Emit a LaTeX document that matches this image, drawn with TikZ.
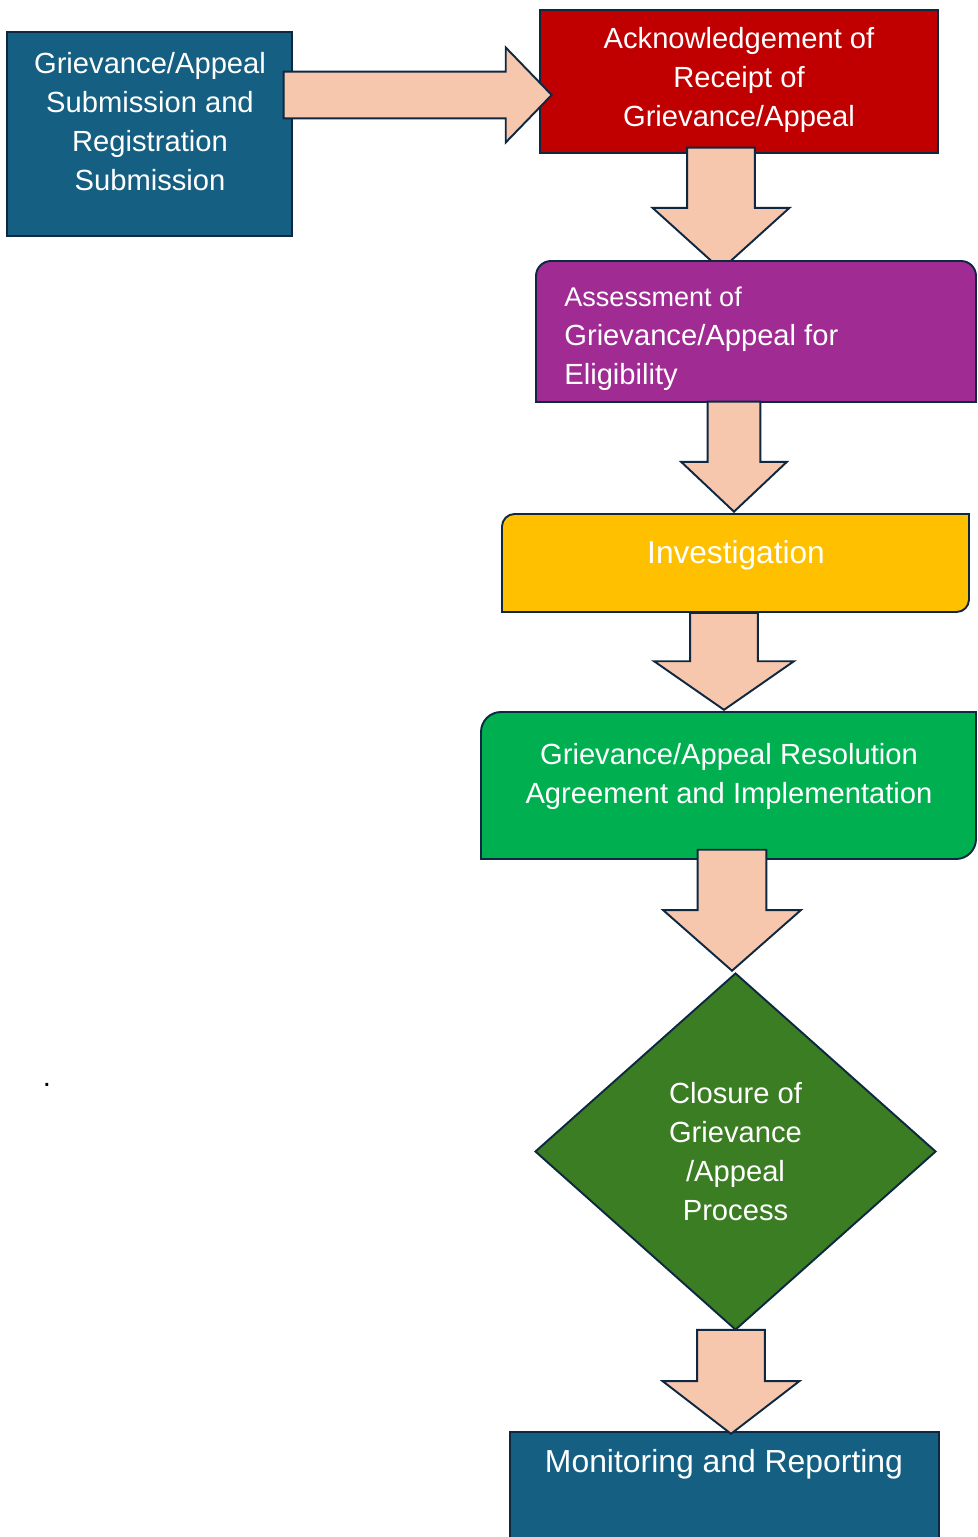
\documentclass[tikz,border=0pt]{standalone}
\usepackage{fontspec}
\setmainfont{Liberation Sans}
\usetikzlibrary{shapes.geometric, shapes.arrows}
\definecolor{stepblue}{HTML}{156082}
\definecolor{stepred}{HTML}{C00000}
\definecolor{steppurple}{HTML}{A02B93}
\definecolor{stepyellow}{HTML}{FFC000}
\definecolor{stepgreen}{HTML}{00B050}
\definecolor{closegreen}{HTML}{3A7D22}
\definecolor{arrowpeach}{HTML}{F6C6AD}
\definecolor{edgenavy}{HTML}{0E2841}
\tikzset{
    outline/.style={draw=edgenavy, line width=1.1pt},
    caption/.style={text=white, font=\fontsize{16.6}{22.2}\selectfont, inner sep=0pt, align=center},
    % shaft, head width, tip angle, length (all in px)
    flowarrow/.style n args={4}{outline, fill=arrowpeach, single arrow, inner xsep=0pt,
        inner ysep=#1*0.01cm, single arrow head extend=(#2-#1)*0.01cm,
        single arrow tip angle=#3, minimum height=#4*0.02cm, anchor=tip},
}
\begin{document}
\begin{tikzpicture}[x=0.02cm, y=-0.02cm]
    \useasboundingbox (0,0) rectangle (977,1537);
    % first two steps
    \draw[outline, fill=stepblue] (7,32) rectangle (292,236);
    \node[caption] (submit) at (150,121.5) {Grievance/Appeal\\Submission and\\Registration\\Submission};
    \draw[outline, fill=stepred] (540,10) rectangle (938,153);
    \node[caption] (ack) at (739,80) {Acknowledgement of\\Receipt of\\Grievance/Appeal};
    \node[flowarrow={45}{93}{91.9}{268}] (a1) at (553,95) {};
    \node[flowarrow={66}{135}{95.8}{122}, rotate=-90] (a2) at (721,271) {};
    % rounded boxes
    \draw[outline, fill=steppurple] (536,402) -- (536,330) [rounded corners=0.3cm] -- (536,261)
        -- (976,261) -- (976,330) [sharp corners] -- (976,402) -- cycle;
    \node[caption, align=left, anchor=west] (assess) at (564,339)
        {{\fontsize{15.4}{22.2}\selectfont Assessment of}\\Grievance/Appeal for\\Eligibility};
    \draw[outline, fill=stepyellow] (502,563) [rounded corners=0.25cm] -- (502,514) -- (735,514)
        [sharp corners] -- (969,514) -- (969,563) [rounded corners=0.25cm] -- (969,612) -- (735,612)
        [sharp corners] -- (502,612) -- cycle;
    \node[caption, font=\fontsize{18}{22.2}\selectfont] (invest) at (736,555) {Investigation};
    \draw[outline, fill=stepgreen] (481,785) [rounded corners=0.4cm] -- (481,712) -- (730,712)
        [sharp corners] -- (976,712) -- (976,785) [rounded corners=0.4cm] -- (976,859) -- (730,859)
        [sharp corners] -- (481,859) -- cycle;
    \node[caption] (resolve) at (729,776) {Grievance/Appeal Resolution\\Agreement and Implementation};
    \node[caption, outline, fill=closegreen, diamond, minimum width=8.02cm, minimum height=7.14cm]
        (close) at (735.5,1151.5) {Closure of\\Grievance\\/Appeal\\Process};
    \draw[outline, fill=stepblue] (510,1432) rectangle (939,1545);
    \node[caption, font=\fontsize{18.15}{22.2}\selectfont] (monitor) at (724,1464) {Monitoring and Reporting};
    \node[inner sep=0pt, font=\fontsize{16.6}{22.2}\selectfont, anchor=base] (dot) at (47,1086) {.};
    % down arrows
    \foreach \s/\h/\a/\l/\x/\y [count=\i from 3] in {51/104/93.4/110/734/513, 66/138/110.4/97/724/711,
        67/136/97.3/121/732/972, 66/135/104.8/104/731/1435}
        \node[flowarrow={\s}{\h}{\a}{\l}, rotate=-90] (a\i) at (\x,\y) {};
\end{tikzpicture}
\end{document}
